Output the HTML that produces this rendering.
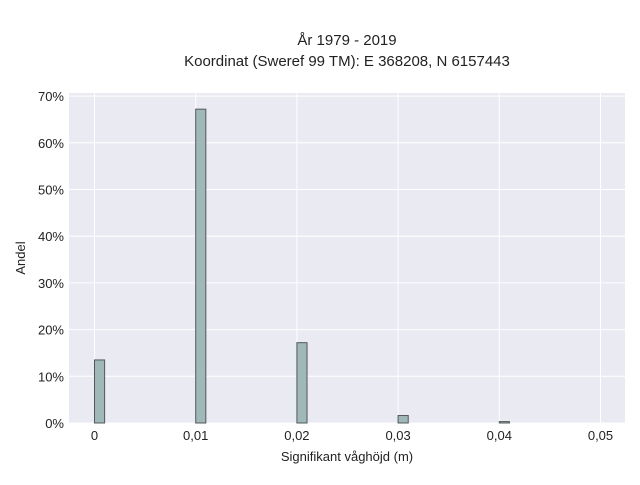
<!DOCTYPE html>
<html><head><meta charset="utf-8"><style>
body{margin:0;background:#fff;font-family:"Liberation Sans",sans-serif;}
svg text{font-family:"Liberation Sans",sans-serif;fill:#222;}
</style></head><body>
<svg width="640" height="480">
<text x="347" y="45" font-size="15" text-anchor="middle">År 1979 - 2019</text>
<text x="347" y="66" font-size="15" text-anchor="middle">Koordinat (Sweref 99 TM): E 368208, N 6157443</text>
<rect x="69" y="93" width="556" height="330" fill="#eaeaf2"/>
<g id="grid"></g><g id="bars"></g><g id="ticks"></g>
<text x="347" y="461" font-size="13" text-anchor="middle">Signifikant våghöjd (m)</text>
<text transform="translate(25,258) rotate(-90)" font-size="13" text-anchor="middle">Andel</text>
</svg>
<script>
const xTicks=[0,0.01,0.02,0.03,0.04,0.05];
const xTickLabels=["0","0,01","0,02","0,03","0,04","0,05"];
const yTicks=[0,10,20,30,40,50,60,70];
const binStarts=[0,0.01,0.02,0.03,0.04];
const shares=[13.5,67.2,17.2,1.6,0.3];
const binWidth=0.001;
const NS="http://www.w3.org/2000/svg";
const xs=v=>94.5+v*10120;
const ys=v=>423-v*4.67;
function mk(t,a,p){const e=document.createElementNS(NS,t);for(const k in a)e.setAttribute(k,a[k]);p.appendChild(e);return e;}
const g=document.getElementById('grid'),b=document.getElementById('bars'),tk=document.getElementById('ticks');
xTicks.forEach((v,i)=>{
 const l=mk('line',{x1:xs(v),x2:xs(v),y1:93,y2:423,stroke:'#fff','stroke-width':1},g);
 
 
 const t=mk('text',{x:xs(v),y:440,'font-size':13,'text-anchor':'middle'},tk);
 t.textContent=xTickLabels[i];
 
 
});
yTicks.forEach(v=>{
 const l=mk('line',{x1:69,x2:625,y1:ys(v),y2:ys(v),stroke:'#fff','stroke-width':1},g);
 
 
 const t=mk('text',{x:64,y:ys(v)+5,'font-size':13,'text-anchor':'end'},tk);
 t.textContent=v+'%';
 
 
});
binStarts.forEach((v,i)=>{
 const x0=xs(v),x1=xs(v+binWidth);
 const r=mk('rect',{x:x0,y:ys(shares[i]),width:x1-x0,height:ys(0)-ys(shares[i]),fill:'#a0b8b8',stroke:'#505858','stroke-width':1},b);
 
 
});
</script>
</body></html>
